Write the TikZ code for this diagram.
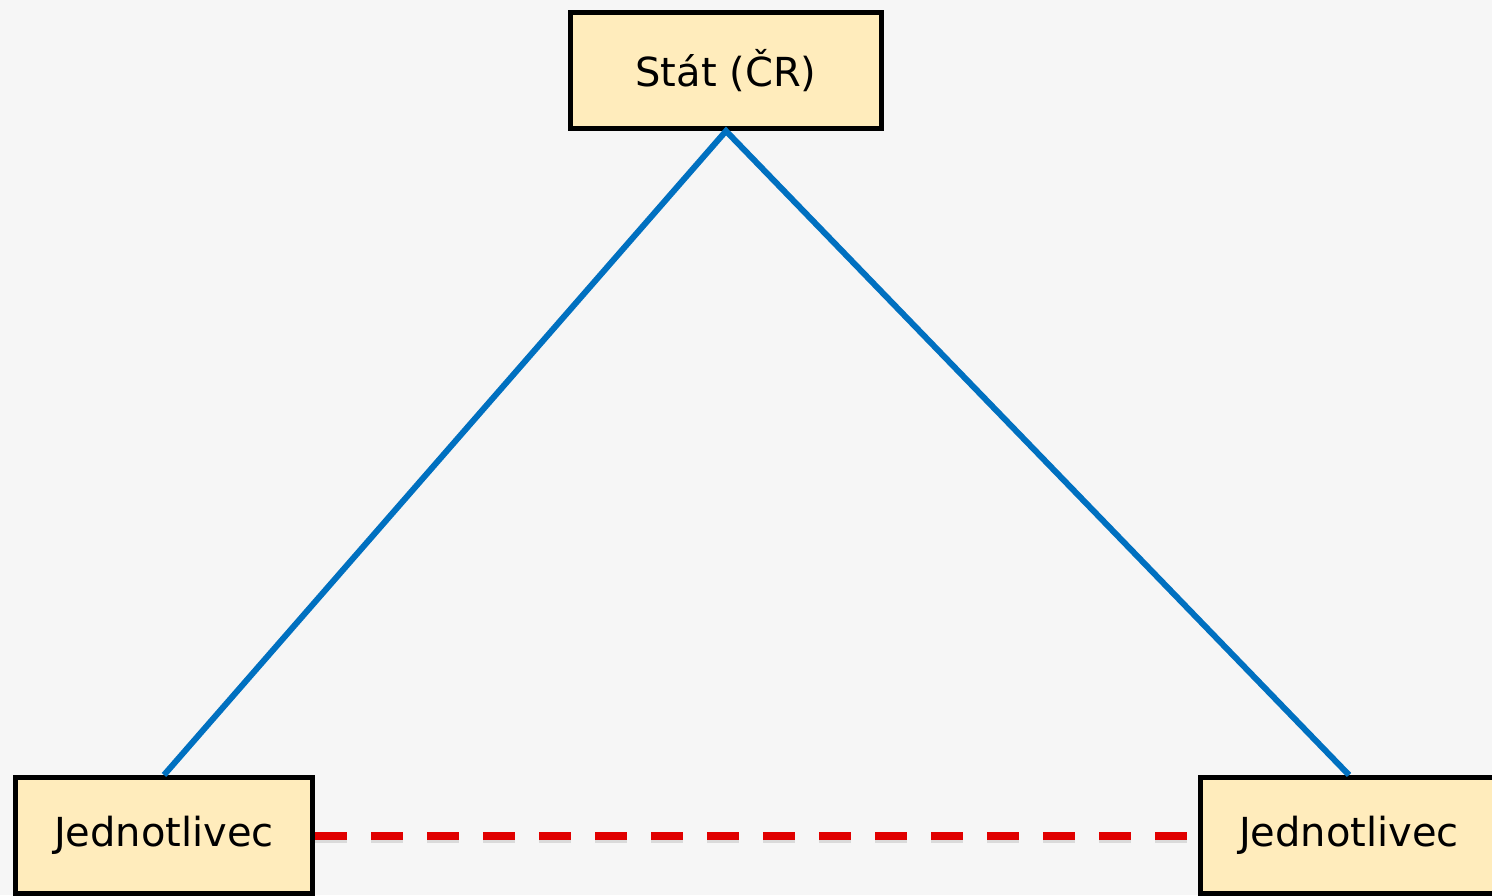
\documentclass[tikz,border=0pt]{standalone}
\usepackage{fontspec}
\setmainfont{DejaVu Sans}
\definecolor{bgc}{RGB}{246,246,246}
\definecolor{boxfill}{RGB}{255,236,188}
\definecolor{linkblue}{RGB}{0,112,192}
\definecolor{linkred}{RGB}{224,0,0}
\begin{document}
\begin{tikzpicture}[x=1pt,y=-1pt,
  entity/.style={draw=black, fill=boxfill, line width=5pt, minimum width=297pt, minimum height=116pt, inner sep=0pt, font=\fontsize{40}{48}\selectfont},
  solidlink/.style={draw=linkblue, line width=6pt},
  dashlink/.style={draw=linkred, line width=8pt, dash pattern=on 32pt off 24pt},
  dashshadow/.style={draw=black!25, opacity=0.5, line width=8pt, dash pattern=on 32pt off 24pt}]
\useasboundingbox (0,0) rectangle (1492,895);
\clip (0,0) rectangle (1492,895);
\fill[bgc] (0,0) rectangle (1492,895);
\node[entity, minimum width=311pt] (stat) at (726,70.5) {Stát (ČR)};
\node[entity] (left) at (164,835.5) {Jednotlivec};
\node[entity] (right) at (1349,835.5) {Jednotlivec};
\draw[solidlink] (left.north) -- (stat.south) -- (right.north);
\draw[dashshadow] ([yshift=-3pt]left.east) -- ([yshift=-3pt]right.west);
\draw[dashlink] (left.east) -- (right.west);
\end{tikzpicture}
\end{document}
